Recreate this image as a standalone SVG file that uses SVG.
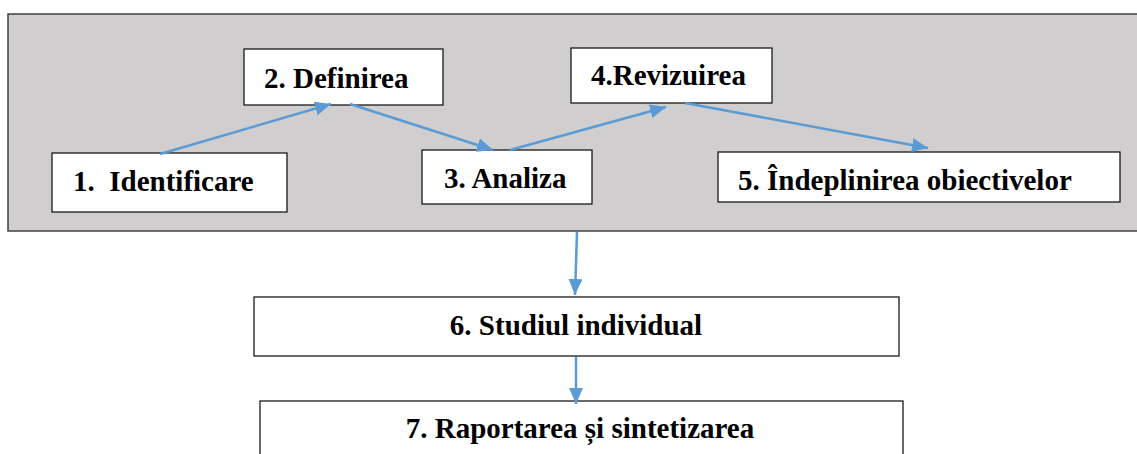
<svg xmlns="http://www.w3.org/2000/svg" width="1137" height="454" viewBox="0 0 1137 454">
<style>
.box{fill:#fff;stroke:#1a1a1a;stroke-width:1.3}
.t{font-family:'Liberation Serif','DejaVu Serif',serif;font-weight:700;font-size:29px;fill:#000}
.c{stroke:#5B9BD5;stroke-width:2.5;fill:none;marker-end:url(#ah)}
</style>
<defs>
<marker id="ah" markerUnits="userSpaceOnUse" markerWidth="18" markerHeight="14" refX="16" refY="7" orient="auto">
<path d="M0,0 L16,7 L0,14 Z" fill="#5B9BD5"/>
</marker>
</defs>
<rect id="panel" x="8" y="14" width="1140" height="217" fill="#D0CECF" stroke="#404040" stroke-width="1.5"/>
<g id="n1"><rect class="box" x="52" y="153" width="235" height="59"/><text class="t" x="73" y="191" xml:space="preserve">1.  Identificare</text></g>
<g id="n2"><rect class="box" x="244" y="49" width="199" height="56"/><text class="t" x="264" y="88">2. Definirea</text></g>
<g id="n3"><rect class="box" x="422" y="150" width="170" height="54"/><text class="t" x="444" y="188">3. Analiza</text></g>
<g id="n4"><rect class="box" x="571" y="48" width="201" height="55"/><text class="t" x="591" y="85">4.Revizuirea</text></g>
<g id="n5"><rect class="box" x="718" y="152" width="402" height="50"/><text class="t" x="738" y="190">5. Îndeplinirea obiectivelor</text></g>
<g id="n6"><rect class="box" x="254" y="297" width="645" height="59"/><text class="t" x="576" y="335" text-anchor="middle">6. Studiul individual</text></g>
<g id="n7"><rect class="box" x="260" y="401" width="643" height="60"/><text class="t" x="580" y="438" text-anchor="middle">7. Raportarea și sintetizarea</text></g>
<g id="connectors">
<line class="c" x1="160" y1="154" x2="331" y2="104"/>
<line class="c" x1="350" y1="104" x2="493" y2="150"/>
<line class="c" x1="510" y1="150" x2="666" y2="107"/>
<line class="c" x1="685" y1="103" x2="928" y2="148"/>
<line class="c" x1="577" y1="232" x2="575" y2="295"/>
<line class="c" x1="576" y1="357" x2="576" y2="404"/>
</g>
</svg>
